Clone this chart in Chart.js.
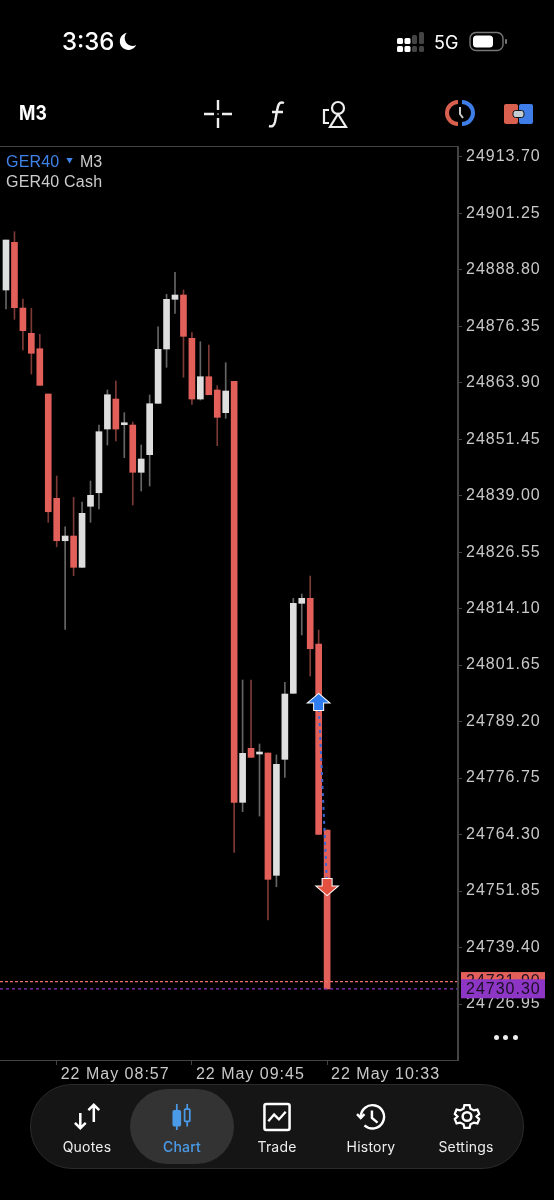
<!DOCTYPE html>
<html>
<head>
<meta charset="utf-8">
<title>GER40 M3</title>
<script src="https://cdn.jsdelivr.net/npm/chart.js@4"></script>
<style>
html, body { margin: 0; padding: 0; background: #000; }
body { position: relative; width: 554px; height: 1200px; overflow: hidden; font-family: Inter, "Liberation Sans", sans-serif; color: #fff; }
canvas { position: absolute; left: 0; top: 0; }
.t { position: absolute; white-space: nowrap; line-height: 1; }
.ic { position: absolute; overflow: visible; }
.dot { position: absolute; top: 1035px; width: 5px; height: 5px; border-radius: 50%; background: #eee; }
#tabbar { position: absolute; left: 30px; top: 1084px; width: 492px; height: 83px; border-radius: 42px; background: #151515; border: 1px solid #2b2b2b; }
#pill { position: absolute; left: 130px; top: 1089px; width: 104px; height: 75px; border-radius: 38px; background: #333; }
.tab { position: absolute; top: 1140px; width: 90px; text-align: center; font-size: 14px; line-height: 1; color: #eee; letter-spacing: .2px; }
.sym { font-family: "Liberation Sans", sans-serif; font-size: 16px; }
</style>
</head>
<body>
<canvas id="chart" width="554" height="1200"></canvas>

<div class="t" style="left:62px;top:30px;font-size:24px;font-weight:500">3:36</div>
<svg class="ic" style="left:119px;top:32px" width="19" height="19" viewBox="0 0 20 22"><path d="M8 1 A10 10 0 1 0 19 15 A9 9 0 0 1 8 1Z" fill="#fff"/></svg>
<svg class="ic" style="left:397px;top:31px" width="28" height="22" viewBox="0 0 28 22" fill="#fff">
<rect x="0" y="7" width="6" height="6" rx="1.5"/><rect x="0" y="15" width="6" height="6" rx="1.5"/>
<rect x="7.5" y="7" width="6" height="6" rx="1.5"/><rect x="7.5" y="15" width="6" height="6" rx="1.5"/>
<rect x="15" y="4" width="5" height="9" rx="1.5" fill="#444"/><rect x="15" y="15" width="5" height="6" rx="1.5" fill="#444"/>
<rect x="22" y="1" width="5" height="12" rx="1.5" fill="#444"/><rect x="22" y="15" width="5" height="6" rx="1.5" fill="#444"/>
</svg>
<div class="t" style="left:434px;top:34px;font-size:18px;font-weight:400">5G</div>
<svg class="ic" style="left:469px;top:31px" width="40" height="21" viewBox="0 0 40 21">
<rect x="1" y="1.5" width="33" height="18" rx="6" fill="none" stroke="#777" stroke-width="1.4"/>
<rect x="4" y="4.5" width="20" height="12" rx="3.5" fill="#fff"/><rect x="36" y="8" width="2" height="5" rx="1" fill="#777"/>
</svg>

<div class="t" style="left:19px;top:103px;font-size:20px;font-weight:700;transform:scaleX(.88);transform-origin:left">M3</div>
<svg class="ic" style="left:203px;top:99px" width="30" height="30" viewBox="0 0 30 30" stroke="#eee" stroke-width="2.4" fill="none">
<path d="M1 15H11M19 15H29M15 1V11M15 19V29"/><circle cx="15" cy="15" r=".8" fill="#eee" stroke="none"/>
</svg>
<svg class="ic" style="left:266px;top:99px" width="24" height="30" viewBox="0 0 24 30" stroke="#eee" stroke-width="2.4" fill="none">
<path d="M18 4C13 2 12 6 11 12L9 23C8 27 6 28 3 27M6 13H17"/>
</svg>
<svg class="ic" style="left:322px;top:99px" width="26" height="30" viewBox="0 0 26 30" stroke="#eee" stroke-width="2.2" fill="none">
<circle cx="16" cy="9" r="6"/><path d="M16 15L24 28H8Z"/><path d="M7 11H2V24H7"/>
</svg>
<svg class="ic" style="left:446px;top:100px" width="28" height="26" viewBox="0 0 28 26" fill="none" stroke-width="4">
<path d="M12 2A11 11 0 0 0 12 24" stroke="#d9604f"/><path d="M16 2A11 11 0 0 1 16 24" stroke="#3f7ee8"/>
<path d="M14 7V14L17 18" stroke="#ccc" stroke-width="2"/>
</svg>
<svg class="ic" style="left:504px;top:103px" width="29" height="22" viewBox="0 0 29 22">
<rect x="0" y="1" width="14" height="20" rx="2" fill="#d9604f"/><rect x="15" y="1" width="14" height="20" rx="2" fill="#3f7ee8"/>
<rect x="9" y="7.5" width="11" height="7" rx="2.5" fill="#c4ccd4" stroke="#111" stroke-width="1"/>
</svg>

<div class="t sym" style="left:6px;top:154px;color:#3f82e8;letter-spacing:.2px">GER40</div>
<div class="t" style="left:66px;top:158px;color:#3f82e8;font-size:7px">▼</div>
<div class="t sym" style="left:80px;top:154px;color:#ccc">M3</div>
<div class="t sym" style="left:6px;top:174px;color:#ccc;letter-spacing:.2px">GER40 Cash</div>

<div class="dot" style="left:494px"></div>
<div class="dot" style="left:503px"></div>
<div class="dot" style="left:513px"></div>

<div id="tabbar"></div>
<div id="pill"></div>
<svg class="ic" style="left:72px;top:1103px" width="31" height="27" viewBox="0 0 32 30" stroke="#fff" stroke-width="2.8" fill="none">
<path d="M8 11V28M2 22L8 28L14 22M23 2V21M17 8L23 2L29 8"/>
</svg>
<svg class="ic" style="left:170px;top:1104px" width="24" height="26" viewBox="0 0 24 30" stroke="#4a9ae8" stroke-width="2">
<path d="M6 0V30M18 0V26"/><rect x="2" y="8" width="8" height="17" rx="1" fill="#4a9ae8"/><rect x="15" y="6" width="6" height="14" rx="1" fill="#333"/>
</svg>
<svg class="ic" style="left:262px;top:1102px" width="30" height="29" viewBox="0 0 30 30" stroke="#fff" fill="none">
<rect x="2" y="2" width="26" height="27" rx="2" stroke-width="2.6"/><path d="M6 20L12 13L17 18L24 10" stroke-width="2.4"/>
</svg>
<svg class="ic" style="left:355px;top:1103px" width="32" height="28" viewBox="0 0 32 30" stroke="#fff" stroke-width="2.6" fill="none">
<path d="M5 15A12.5 12.5 0 1 1 9 24"/><path d="M1 12L5 16L9 12"/><path d="M17 8V16L23 21"/>
</svg>
<svg class="ic" style="left:453px;top:1102px" width="28" height="29" viewBox="0 0 28 30" fill="none" stroke="#fff" stroke-width="2.6">
<circle cx="14" cy="15" r="4.5"/><path d="M11 2H17L18 6L22 8L26 7L28 12L25 15L28 18L26 23L22 22L18 24L17 28H11L10 24L6 22L2 23L0 18L3 15L0 12L2 7L6 8L10 6Z" transform="translate(1.4 1.5) scale(.9)"/>
</svg>
<div class="tab" style="left:42px">Quotes</div>
<div class="tab" style="left:137px;color:#4a9ae8;font-weight:500">Chart</div>
<div class="tab" style="left:232px">Trade</div>
<div class="tab" style="left:326px">History</div>
<div class="tab" style="left:421px">Settings</div>

<script>
// candle start times, 3 minute bars
const times = ['08:39','08:42','08:45','08:48','08:51','08:54','08:57','09:00','09:03','09:06',
  '09:09','09:12','09:15','09:18','09:21','09:24','09:27','09:30','09:33','09:36',
  '09:39','09:42','09:45','09:48','09:51','09:54','09:57','10:00','10:03','10:06',
  '10:09','10:12','10:15','10:18','10:21','10:24','10:27','10:30','10:33'];
const opens = [24884.32,24894.83,24880.35,24874.78,24871.38,24861.40,24838.41,24829.06,24830.10,24823.20,
  24836.65,24839.64,24853.68,24860.29,24854.63,24854.56,24844.14,24848.02,24859.35,24871.32,
  24882.27,24883.22,24873.67,24860.29,24865.21,24862.28,24857.28,24864.20,24771.40,24783.31,
  24782.05,24782.27,24755.31,24780.88,24795.43,24815.26,24816.37,24806.29,24765.30];
const highs = [24895.34,24897.17,24882.34,24880.29,24874.56,24861.40,24843.32,24832.15,24838.63,24837.59,
  24842.22,24854.56,24862.28,24864.26,24857.28,24855.23,24850.16,24861.18,24876.23,24883.37,
  24888.22,24884.32,24874.91,24872.92,24872.20,24863.23,24868.30,24864.20,24798.36,24798.36,
  24784.25,24782.27,24781.83,24797.85,24816.37,24817.31,24821.28,24809.38,24765.30];
const lows = [24880.13,24877.86,24871.09,24865.80,24863.31,24833.12,24827.74,24809.53,24821.35,24823.20,
  24833.12,24836.05,24850.16,24851.04,24847.36,24836.93,24840.02,24841.12,24859.35,24867.28,
  24879.18,24865.08,24859.13,24860.07,24861.24,24850.00,24856.04,24760.38,24769.33,24781.32,
  24768.38,24745.46,24752.80,24776.91,24795.43,24808.28,24799.24,24764.35,24730.30];
const closes = [24895.34,24880.42,24875.35,24870.37,24863.31,24835.45,24829.06,24830.10,24823.20,24835.10,
  24839.07,24853.09,24861.24,24853.68,24855.00,24844.14,24847.07,24859.26,24871.25,24882.27,
  24883.22,24874.11,24860.29,24865.21,24861.24,24856.26,24862.06,24771.40,24782.20,24781.32,
  24782.38,24754.43,24779.78,24795.27,24815.26,24816.37,24805.26,24764.35,24730.30];

const priceTicks = [24913.70,24901.25,24888.80,24876.35,24863.90,24851.45,24839.00,24826.55,
  24814.10,24801.65,24789.20,24776.75,24764.30,24751.85,24739.40,24726.95];
const dateTicks = ['08:57','09:45','10:33'];
const dateLabel = '22 May';

const askPrice = 24731.90;
const bidPrice = 24730.30;
// entry and exit of the trade
const tradeTimes = ['10:30','10:33'];
const tradePrices = [24793.51,24752.73];

const X_MIN = -0.71, X_MAX = 53.49;
const Y_MIN = 24714.61, Y_MAX = 24916.06;

const RED = '#e3605a', WHITE = '#dedede', RED_WICK = '#7c3a36', WHITE_WICK = '#666';
const TICK_COL = '#c9c9c9', FRAME_COL = '#444';

const isUp = i => closes[i] >= opens[i];
const pos = t => times.indexOf(t);

function arrow(ctx, x, y, dir, fill) {
  // dir -1 points up, 1 points down
  ctx.beginPath();
  ctx.moveTo(x, y + dir * 8);
  ctx.lineTo(x + 10, y - dir * 0.5);
  ctx.lineTo(x + 4.5, y - dir * 0.5);
  ctx.lineTo(x + 4.5, y - dir * 8);
  ctx.lineTo(x - 4.5, y - dir * 8);
  ctx.lineTo(x - 4.5, y - dir * 0.5);
  ctx.lineTo(x - 10, y - dir * 0.5);
  ctx.closePath();
  ctx.lineWidth = 2;
  ctx.strokeStyle = '#fff';
  ctx.fillStyle = fill;
  ctx.stroke();
  ctx.fill();
}

function priceBox(ctx, yPix, bg, text) {
  ctx.fillStyle = bg;
  ctx.fillRect(461, yPix - 9.5, 84, 19);
  ctx.fillStyle = '#1a0f22';
  ctx.font = '16px "Liberation Sans"';
  ctx.textAlign = 'left';
  ctx.textBaseline = 'middle';
  ctx.fillText(text, 466, yPix + 0.5);
}

const spacing = {
  id: 'spacing',
  beforeDraw(chart) { chart.ctx.letterSpacing = '1px'; }
};

const overlay = {
  id: 'overlay',
  afterDatasetsDraw(chart) {
    const { ctx, chartArea: a, scales: { x, y } } = chart;
    ctx.save();
    ctx.strokeStyle = FRAME_COL;
    ctx.lineWidth = 1;
    ctx.strokeRect(a.left - 0.5, a.top + 0.5, a.right - a.left, a.bottom - a.top);
    arrow(ctx, x.getPixelForValue(pos(tradeTimes[0])), y.getPixelForValue(tradePrices[0]), -1, '#2f7df0');
    arrow(ctx, x.getPixelForValue(pos(tradeTimes[1])), y.getPixelForValue(tradePrices[1]), 1, '#e3503f');
    priceBox(ctx, y.getPixelForValue(askPrice), RED, askPrice.toFixed(2));
    priceBox(ctx, y.getPixelForValue(bidPrice), '#8d35c4', bidPrice.toFixed(2));
    ctx.restore();
  }
};

new Chart(document.getElementById('chart').getContext('2d'), {
  type: 'bar',
  data: {
    datasets: [
      {
        label: 'trade',
        type: 'line',
        order: 1,
        data: tradeTimes.map((t, i) => ({ x: pos(t), y: tradePrices[i] })),
        borderColor: '#3a66d6',
        borderWidth: 2,
        borderDash: [3, 4],
        pointRadius: 0
      },
      {
        label: 'bid',
        type: 'line',
        order: 2,
        data: [{ x: X_MIN, y: bidPrice }, { x: X_MAX, y: bidPrice }],
        borderColor: '#8d35c4',
        borderWidth: 1.3,
        borderDash: [3, 3],
        pointRadius: 0
      },
      {
        label: 'ask',
        type: 'line',
        order: 3,
        data: [{ x: X_MIN, y: askPrice }, { x: X_MAX, y: askPrice }],
        borderColor: '#f0706a',
        borderWidth: 1.3,
        borderDash: [3, 2],
        pointRadius: 0
      },
      {
        label: 'bodies',
        order: 4,
        grouped: false,
        barThickness: 6,
        minBarLength: 2,
        data: times.map((t, i) => ({ x: i, y: [opens[i], closes[i]] })),
        backgroundColor: times.map((t, i) => isUp(i) ? WHITE : RED)
      },
      {
        label: 'wicks',
        order: 5,
        grouped: false,
        barThickness: 1,
        data: times.map((t, i) => ({ x: i, y: [lows[i], highs[i]] })),
        backgroundColor: times.map((t, i) => isUp(i) ? WHITE_WICK : RED_WICK)
      }
    ]
  },
  options: {
    responsive: false,
    animation: false,
    devicePixelRatio: 1,
    layout: { padding: { top: 146, left: 0, right: 0, bottom: 0 } },
    plugins: { legend: { display: false }, tooltip: { enabled: false } },
    scales: {
      x: {
        type: 'linear',
        offset: false,
        min: X_MIN,
        max: X_MAX,
        afterFit(s) { s.height = 140; },
        afterBuildTicks(s) { s.ticks = dateTicks.map(t => ({ value: pos(t) })); },
        grid: { offset: false, drawOnChartArea: false, tickLength: 5, tickColor: FRAME_COL },
        border: { color: FRAME_COL },
        ticks: {
          autoSkip: false,
          maxRotation: 0,
          align: 'start',
          labelOffset: 4,
          padding: 0,
          color: TICK_COL,
          font: { family: '"Liberation Sans"', size: 16 },
          callback: v => dateLabel + ' ' + times[v]
        }
      },
      y: {
        position: 'right',
        min: Y_MIN,
        max: Y_MAX,
        afterFit(s) { s.width = 96; },
        afterBuildTicks(s) { s.ticks = priceTicks.map(v => ({ value: v })); },
        grid: { drawOnChartArea: false, tickLength: 4, tickColor: FRAME_COL },
        border: { color: FRAME_COL },
        ticks: {
          autoSkip: false,
          padding: 4,
          color: TICK_COL,
          font: { family: '"Liberation Sans"', size: 16 },
          callback: v => v.toFixed(2)
        }
      }
    }
  },
  plugins: [spacing, overlay]
});
</script>
</body>
</html>
